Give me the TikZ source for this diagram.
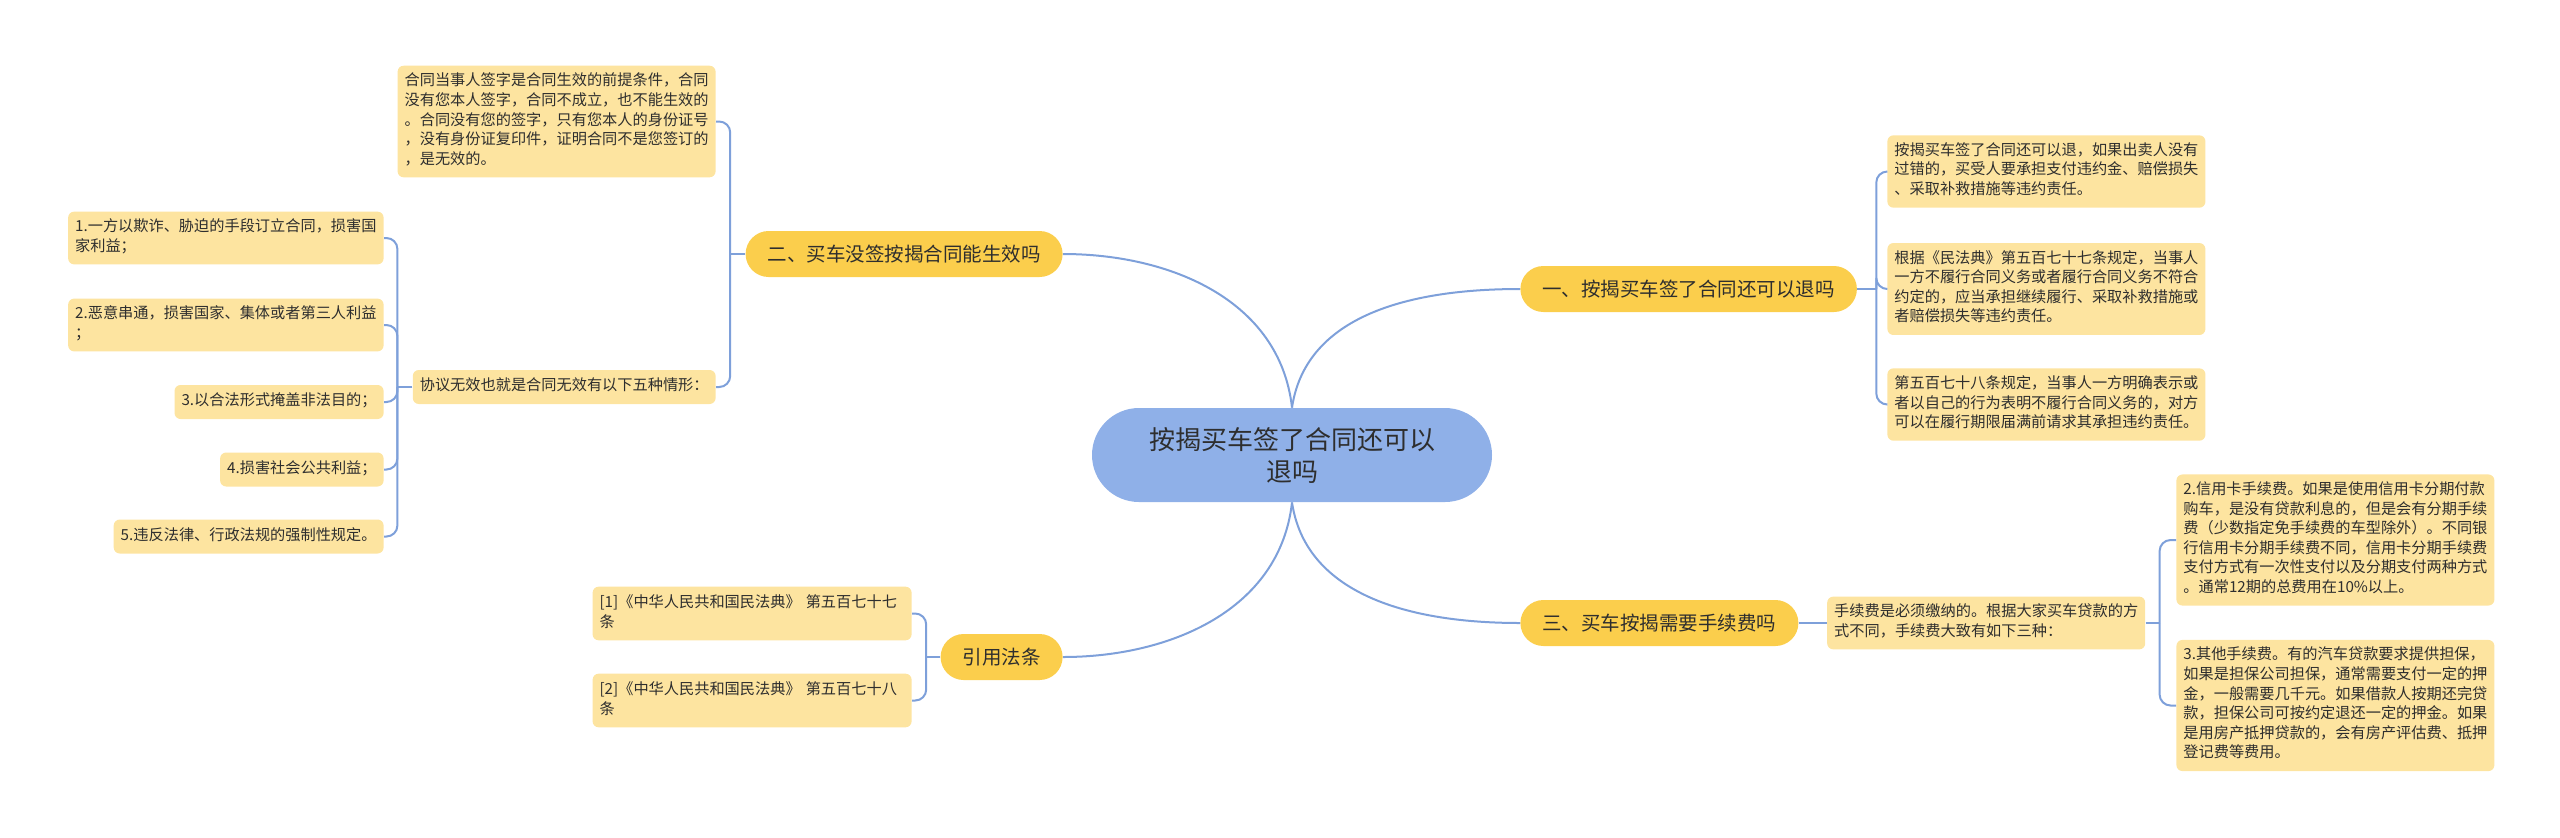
\documentclass[tikz,border=0pt]{standalone}
\usepackage{fontspec}
\setmainfont{Noto Sans CJK SC}
\usetikzlibrary{positioning}
\definecolor{rootblue}{HTML}{8FB0E8}
\definecolor{branchgold}{HTML}{FBCE4C}
\definecolor{leafyellow}{HTML}{FDE4A0}
\definecolor{linkblue}{HTML}{7EA0DA}
\definecolor{inkgray}{HTML}{2E2E2E}
\tikzstyle{root} = [fill=rootblue, rounded corners=23.5pt, minimum width=200pt, minimum height=47pt, align=center, text=inkgray, font=\fontsize{13}{16}\selectfont]
\tikzstyle{branch} = [fill=branchgold, rounded corners=11.5pt, minimum height=23pt, inner xsep=11pt, text=inkgray, font=\fontsize{9.75}{12}\selectfont]
\tikzstyle{leaf} = [fill=leafyellow, rounded corners=3pt, inner xsep=3.5pt, inner ysep=3.6pt, align=left, text=inkgray, font=\fontsize{7.6}{9.8}\selectfont, execute at begin node=\strut, execute at end node=\strut]
\tikzstyle{link} = [draw=linkblue, line width=1pt]
\tikzstyle{bracket} = [link, rounded corners=5.5pt]

\begin{document}
\begin{tikzpicture}[x=0.5pt, y=-0.5pt]
  \useasboundingbox (0,0) rectangle (2560,837);
  % centre and main topics
  \node[root] (root) at (1292,455) {按揭买车签了合同还可以\\退吗};
  \node[branch, anchor=west] (yi) at (1520,289) {一、按揭买车签了合同还可以退吗};
  \node[branch, anchor=east] (er) at (1063,254) {二、买车没签按揭合同能生效吗};
  \node[branch, anchor=west] (san) at (1520,623) {三、买车按揭需要手续费吗};
  \node[branch, anchor=east] (fatiao) at (1063,657) {引用法条};
  \draw[link] (root.north) .. controls (1280,300) and (1170,254) .. (er.east);
  \draw[link] (root.north) .. controls (1305,320) and (1400,289) .. (yi.west);
  \draw[link] (root.south) .. controls (1280,610) and (1170,657) .. (fatiao.east);
  \draw[link] (root.south) .. controls (1305,590) and (1400,623) .. (san.west);

  % 一
  \node[leaf, anchor=west] (yi-a) at (1887,171.5) {按揭买车签了合同还可以退，如果出卖人没有\\过错的，买受人要承担支付违约金、赔偿损失\\、采取补救措施等违约责任。};
  \node[leaf, anchor=west] (yi-b) at (1887,289) {根据《民法典》第五百七十七条规定，当事人\\一方不履行合同义务或者履行合同义务不符合\\约定的，应当承担继续履行、采取补救措施或\\者赔偿损失等违约责任。};
  \node[leaf, anchor=west] (yi-c) at (1887,404.5) {第五百七十八条规定，当事人一方明确表示或\\者以自己的行为表明不履行合同义务的，对方\\可以在履行期限届满前请求其承担违约责任。};
  \coordinate[right=9.5pt of yi.east] (yi-j);
  \draw[link] (yi.east) -- (yi-j);
  \draw[bracket] (yi-j) |- (yi-a.west);
  \draw[bracket] (yi-j) |- (yi-b.west);
  \draw[bracket] (yi-j) |- (yi-c.west);

  % 二
  \node[leaf, anchor=east] (er-a) at (716,121.5) {合同当事人签字是合同生效的前提条件，合同\\没有您本人签字，合同不成立，也不能生效的\\。合同没有您的签字，只有您本人的身份证号\\，没有身份证复印件，证明合同不是您签订的\\，是无效的。};
  \node[leaf, anchor=east] (er-b) at (716,387) {协议无效也就是合同无效有以下五种情形：};
  \coordinate[left=7.5pt of er.west] (er-j);
  \draw[link] (er.west) -- (er-j);
  \draw[bracket] (er-j) |- (er-a.east);
  \draw[bracket] (er-j) |- (er-b.east);
  \node[leaf, anchor=east] (er-b1) at (384,238) {1.一方以欺诈、胁迫的手段订立合同，损害国\\家利益；};
  \node[leaf, anchor=east] (er-b2) at (384,325) {2.恶意串通，损害国家、集体或者第三人利益\\；};
  \node[leaf, anchor=east] (er-b3) at (384,402) {3.以合法形式掩盖非法目的；};
  \node[leaf, anchor=east] (er-b4) at (384,469.5) {4.损害社会公共利益；};
  \node[leaf, anchor=east] (er-b5) at (384,536.5) {5.违反法律、行政法规的强制性规定。};
  \coordinate[left=7.5pt of er-b.west] (er-b-j);
  \draw[link] (er-b.west) -- (er-b-j);
  \draw[bracket] (er-b-j) |- (er-b1.east);
  \draw[bracket] (er-b-j) |- (er-b2.east);
  \draw[bracket] (er-b-j) |- (er-b3.east);
  \draw[bracket] (er-b-j) |- (er-b4.east);
  \draw[bracket] (er-b-j) |- (er-b5.east);

  % 引用法条
  \node[leaf, text width=152.5pt, anchor=east] (fatiao-a) at (912,613.5) {[1]《中华人民共和国民法典》 第五百七十七\\条};
  \node[leaf, text width=152.5pt, anchor=east] (fatiao-b) at (912,700.5) {[2]《中华人民共和国民法典》 第五百七十八\\条};
  \coordinate[left=7pt of fatiao.west] (fatiao-j);
  \draw[link] (fatiao.west) -- (fatiao-j);
  \draw[bracket] (fatiao-j) |- (fatiao-a.east);
  \draw[bracket] (fatiao-j) |- (fatiao-b.east);

  % 三
  \node[leaf, right=14pt of san] (san-a) {手续费是必须缴纳的。根据大家买车贷款的方\\式不同，手续费大致有如下三种：};
  \draw[link] (san.east) -- (san-a.west);
  \node[leaf, anchor=west] (san-a1) at (2176,540) {2.信用卡手续费。如果是使用信用卡分期付款\\购车，是没有贷款利息的，但是会有分期手续\\费（少数指定免手续费的车型除外）。不同银\\行信用卡分期手续费不同，信用卡分期手续费\\支付方式有一次性支付以及分期支付两种方式\\。通常12期的总费用在10\%以上。};
  \node[leaf, anchor=west] (san-a2) at (2176,705.5) {3.其他手续费。有的汽车贷款要求提供担保，\\如果是担保公司担保，通常需要支付一定的押\\金，一般需要几千元。如果借款人按期还完贷\\款，担保公司可按约定退还一定的押金。如果\\是用房产抵押贷款的，会有房产评估费、抵押\\登记费等费用。};
  \coordinate[right=7pt of san-a.east] (san-a-j);
  \draw[link] (san-a.east) -- (san-a-j);
  \draw[bracket] (san-a-j) |- (san-a1.west);
  \draw[bracket] (san-a-j) |- (san-a2.west);
\end{tikzpicture}
\end{document}
